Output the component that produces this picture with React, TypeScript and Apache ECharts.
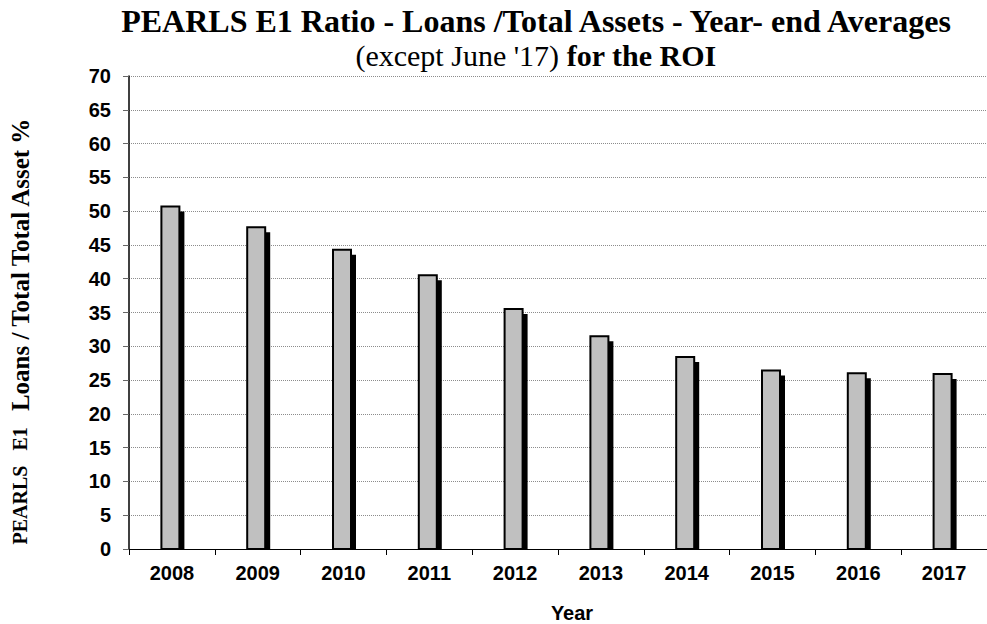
import React, { useEffect, useRef } from "react";
import * as echarts from "echarts";

const years = ["2008", "2009", "2010", "2011", "2012", "2013", "2014", "2015", "2016", "2017"];
const e1Ratio = [50.7, 47.6, 44.3, 40.5, 35.5, 31.5, 28.4, 26.4, 26.0, 25.9];
const yTicks = { min: 0, max: 70, interval: 5 };

const serif = "Liberation Serif, Times New Roman, serif";
const sans = "Liberation Sans, Arial, sans-serif";
const nb = "\u00a0";

export default function App() {
  const ref = useRef<HTMLDivElement>(null);
  useEffect(() => {
    if (!ref.current) return;
    const chart = echarts.init(ref.current, null, { renderer: "svg" });
    const barW = 18;
    const shadow = 5;
    chart.setOption({
      animation: false,
      backgroundColor: "#ffffff",
      grid: { left: 129, top: 76, width: 863, height: 473, containLabel: false },
      xAxis: {
        type: "category",
        data: years,
        axisLine: { lineStyle: { color: "#000", width: 1 } },
        axisTick: { show: true, length: 6, lineStyle: { color: "#000" } },
        axisLabel: {
          color: "#000",
          fontFamily: sans,
          fontWeight: "bold",
          fontSize: 20,
          margin: 14,
        },
      },
      yAxis: {
        type: "value",
        min: yTicks.min,
        max: yTicks.max,
        interval: yTicks.interval,
        axisLine: { show: true, lineStyle: { color: "#000", width: 1.5 } },
        axisTick: { show: true, length: 6, lineStyle: { color: "#666" } },
        axisLabel: {
          color: "#000",
          fontFamily: sans,
          fontWeight: "bold",
          fontSize: 20,
          margin: 18,
        },
        splitLine: { show: true, lineStyle: { color: "#8c8c8c", type: "dotted", width: 1 } },
      },
      series: [
        {
          type: "custom",
          data: e1Ratio.map((v, i) => [i, v]),
          encode: { x: 0, y: 1 },
          renderItem: (params: any, api: any) => {
            const top = api.coord([api.value(0), api.value(1)]);
            const base = api.coord([api.value(0), 0]);
            const cx = top[0] - 1.5;
            const h = base[1] - top[1];
            return {
              type: "group",
              children: [
                {
                  type: "rect",
                  shape: { x: cx - barW / 2 + shadow, y: top[1] + shadow, width: barW, height: h - shadow },
                  style: { fill: "#000" },
                },
                {
                  type: "rect",
                  shape: { x: cx - barW / 2, y: top[1], width: barW, height: h },
                  style: { fill: "#c0c0c0", stroke: "#000", lineWidth: 2 },
                },
              ],
            };
          },
        },
      ],
      graphic: [
        {
          type: "text",
          x: 536,
          y: 21,
          style: {
            text: "PEARLS E1 Ratio - Loans /Total Assets - Year- end Averages",
            font: "bold 32px 'Liberation Serif', 'Times New Roman', serif",
            fill: "#000",
            align: "center",
            verticalAlign: "middle",
          },
        },
        {
          type: "text",
          x: 536,
          y: 55,
          style: {
            text: "{n|(except June '17) }{b|for the ROI}",
            align: "center",
            verticalAlign: "middle",
            rich: {
              n: { fontFamily: serif, fontSize: 30, fontWeight: "normal", fill: "#000" },
              b: { fontFamily: serif, fontSize: 30, fontWeight: "bold", fill: "#000" },
            },
          },
        },
        {
          type: "text",
          x: 20,
          y: 331,
          rotation: Math.PI / 2,
          style: {
            text: `{s|PEARLS${nb}${nb}${nb}E1${nb}${nb}${nb}}{l|Loans / Total Total Asset %}`,
            align: "center",
            verticalAlign: "middle",
            rich: {
              s: { fontFamily: serif, fontWeight: "bold", fontSize: 20, fill: "#000", verticalAlign: "middle" },
              l: { fontFamily: serif, fontWeight: "bold", fontSize: 25, fill: "#000", verticalAlign: "middle" },
            },
          },
        },
        {
          type: "text",
          x: 572,
          y: 613,
          style: {
            text: "Year",
            font: "bold 20px 'Liberation Sans', Arial, sans-serif",
            fill: "#000",
            align: "center",
            verticalAlign: "middle",
          },
        },
      ],
    });
    return () => chart.dispose();
  }, []);
  return <div ref={ref} style={{ position: "fixed", left: 0, top: 0, width: 987, height: 624 }} />;
}
